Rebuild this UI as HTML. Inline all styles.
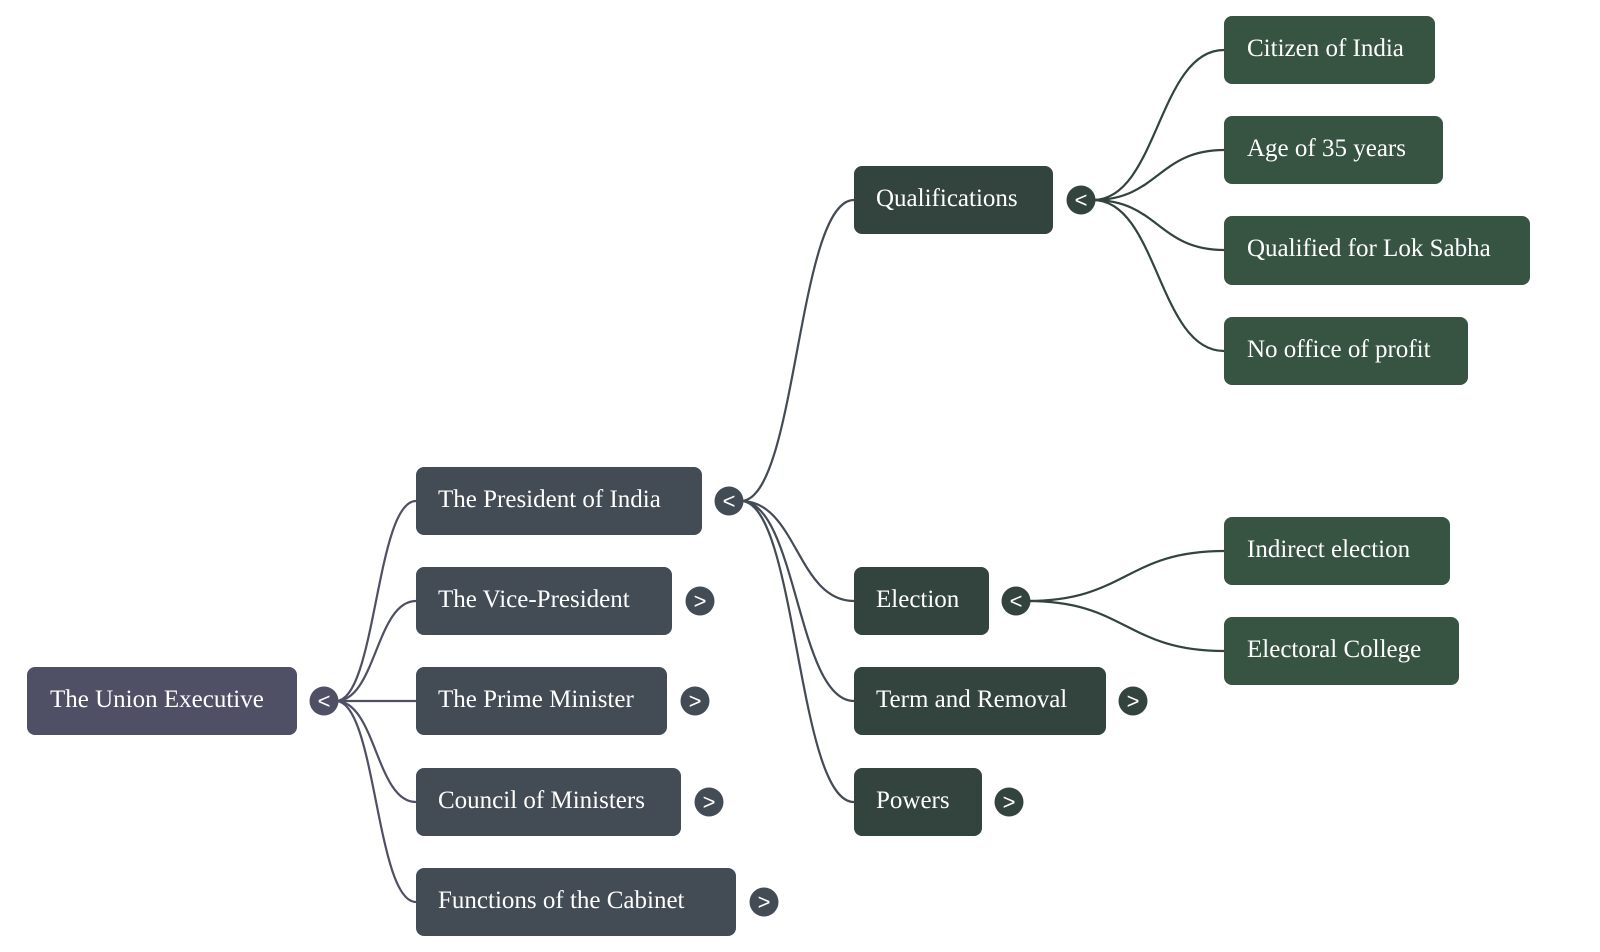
<!DOCTYPE html>
<html>
<head>
<meta charset="utf-8">
<style>
  html,body{margin:0;padding:0;background:#fff;}
  svg{display:block;}
  .t{font-family:"Liberation Serif","Times New Roman",serif;font-size:25px;fill:#ffffff;}
  .g{font-family:"Liberation Sans",Arial,sans-serif;font-size:22px;font-weight:normal;fill:#ffffff;text-anchor:middle;dominant-baseline:central;}
</style>
</head>
<body>
<svg width="1600" height="952" viewBox="0 0 1600 952" xmlns="http://www.w3.org/2000/svg">
  <rect width="1600" height="952" fill="#ffffff"/>

  <!-- root edges -->
  <g fill="none" stroke="#4f5066" stroke-width="2.2">
    <path d="M336 701 C376 701 376 501 416 501"/>
    <path d="M336 701 C376 701 376 601 416 601"/>
    <path d="M336 701 L416 701"/>
    <path d="M336 701 C376 701 376 802 416 802"/>
    <path d="M336 701 C376 701 376 902 416 902"/>
  </g>
  <!-- president edges -->
  <g fill="none" stroke="#434b55" stroke-width="2.2">
    <path d="M741 501 C797 501 797 200 854 200"/>
    <path d="M741 501 C797 501 797 601 854 601"/>
    <path d="M741 501 C797 501 797 701 854 701"/>
    <path d="M741 501 C797 501 797 802 854 802"/>
  </g>
  <!-- qualifications edges -->
  <g fill="none" stroke="#33443f" stroke-width="2.2">
    <path d="M1093 200 C1158 200 1158 50 1224 50"/>
    <path d="M1093 200 C1158 200 1158 150 1224 150"/>
    <path d="M1093 200 C1158 200 1158 250 1224 250"/>
    <path d="M1093 200 C1158 200 1158 351 1224 351"/>
  </g>
  <!-- election edges -->
  <g fill="none" stroke="#33443f" stroke-width="2.2">
    <path d="M1028 601 C1126 601 1126 551 1224 551"/>
    <path d="M1028 601 C1126 601 1126 651 1224 651"/>
  </g>

  <!-- root -->
  <rect x="27" y="667" width="270" height="68" rx="8" fill="#4f5066"/>
  <text class="t" x="50" y="707">The Union Executive</text>
  <circle cx="324" cy="701" r="14.5" fill="#4f5066"/>
  <text class="g" x="324" y="701">&lt;</text>

  <!-- level 1 -->
  <g fill="#434b55">
    <rect x="416" y="467" width="286" height="68" rx="8"/>
    <rect x="416" y="567" width="256" height="68" rx="8"/>
    <rect x="416" y="667" width="251" height="68" rx="8"/>
    <rect x="416" y="768" width="265" height="68" rx="8"/>
    <rect x="416" y="868" width="320" height="68" rx="8"/>
    <circle cx="729" cy="501" r="14.5"/>
    <circle cx="700" cy="601" r="14.5"/>
    <circle cx="695" cy="701" r="14.5"/>
    <circle cx="709" cy="802" r="14.5"/>
    <circle cx="764" cy="902" r="14.5"/>
  </g>
  <text class="t" x="438" y="507">The President of India</text>
  <text class="t" x="438" y="607">The Vice-President</text>
  <text class="t" x="438" y="707">The Prime Minister</text>
  <text class="t" x="438" y="808">Council of Ministers</text>
  <text class="t" x="438" y="908">Functions of the Cabinet</text>
  <text class="g" x="729" y="501">&lt;</text>
  <text class="g" x="700" y="601">&gt;</text>
  <text class="g" x="695" y="701">&gt;</text>
  <text class="g" x="709" y="802">&gt;</text>
  <text class="g" x="764" y="902">&gt;</text>

  <!-- level 2 -->
  <g fill="#33433e">
    <rect x="854" y="166" width="199" height="68" rx="8"/>
    <rect x="854" y="567" width="135" height="68" rx="8"/>
    <rect x="854" y="667" width="252" height="68" rx="8"/>
    <rect x="854" y="768" width="128" height="68" rx="8"/>
    <circle cx="1081" cy="200" r="14.5"/>
    <circle cx="1016" cy="601" r="14.5"/>
    <circle cx="1133" cy="701" r="14.5"/>
    <circle cx="1009" cy="802" r="14.5"/>
  </g>
  <text class="t" x="876" y="206">Qualifications</text>
  <text class="t" x="876" y="607">Election</text>
  <text class="t" x="876" y="707">Term and Removal</text>
  <text class="t" x="876" y="808">Powers</text>
  <text class="g" x="1081" y="200">&lt;</text>
  <text class="g" x="1016" y="601">&lt;</text>
  <text class="g" x="1133" y="701">&gt;</text>
  <text class="g" x="1009" y="802">&gt;</text>

  <!-- level 3 -->
  <g fill="#375443">
    <rect x="1224" y="16" width="211" height="68" rx="8"/>
    <rect x="1224" y="116" width="219" height="68" rx="8"/>
    <rect x="1224" y="216" width="306" height="69" rx="8"/>
    <rect x="1224" y="317" width="244" height="68" rx="8"/>
    <rect x="1224" y="517" width="226" height="68" rx="8"/>
    <rect x="1224" y="617" width="235" height="68" rx="8"/>
  </g>
  <text class="t" x="1247" y="56">Citizen of India</text>
  <text class="t" x="1247" y="156">Age of 35 years</text>
  <text class="t" x="1247" y="256">Qualified for Lok Sabha</text>
  <text class="t" x="1247" y="357">No office of profit</text>
  <text class="t" x="1247" y="557">Indirect election</text>
  <text class="t" x="1247" y="657">Electoral College</text>
</svg>
</body>
</html>
